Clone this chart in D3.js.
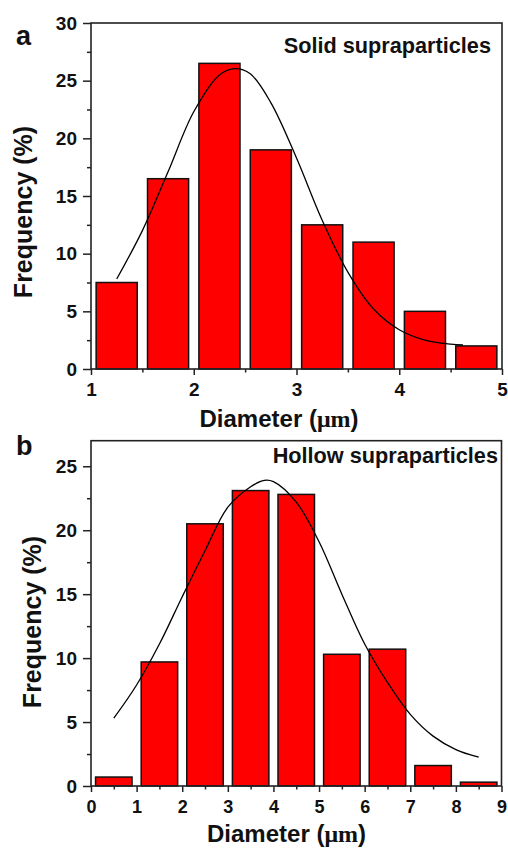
<!DOCTYPE html>
<html>
<head>
<meta charset="utf-8">
<script src="https://cdn.jsdelivr.net/npm/d3@7"></script>
<style>
  body { margin: 0; background: #fff; }
  svg text { font-family: Arial, "Liberation Sans", sans-serif; font-weight: bold; fill: #111; }
</style>
</head>
<body>
<svg id="chart" width="508" height="848"></svg>
<script>
// panel a : solid supraparticles
var solidCenters = [1.25, 1.75, 2.25, 2.75, 3.25, 3.75, 4.25, 4.75];
var solidFreq = [7.5, 16.5, 26.5, 19, 12.5, 11, 5, 2];
var solidFitX = [1.25, 1.5, 1.75, 2.0, 2.25, 2.4, 2.55, 2.75, 3.0, 3.25, 3.5, 3.75, 4.0, 4.25, 4.5, 4.62];
var solidFitY = [7.8, 12.0, 17.1, 22.3, 25.5, 26.05, 25.6, 23.1, 18.3, 12.9, 8.4, 5.2, 3.4, 2.5, 2.15, 2.08];
var solidXTicks = [1, 2, 3, 4, 5];
var solidXMinor = [1.5, 2.5, 3.5, 4.5];
var solidYTicks = [0, 5, 10, 15, 20, 25, 30];
var solidYMinor = [2.5, 7.5, 12.5, 17.5, 22.5, 27.5];

// panel b : hollow supraparticles
var hollowCenters = [0.5, 1.5, 2.5, 3.5, 4.5, 5.5, 6.5, 7.5, 8.5];
var hollowFreq = [0.7, 9.7, 20.5, 23.1, 22.8, 10.3, 10.7, 1.6, 0.3];
var hollowFitX = [0.5, 1.0, 1.5, 2.0, 2.5, 3.0, 3.5, 3.8, 4.0, 4.5, 5.0, 5.5, 6.0, 6.5, 7.0, 7.5, 8.0, 8.5];
var hollowFitY = [5.3, 7.9, 11.1, 14.8, 18.4, 21.8, 23.4, 23.9, 23.8, 22.2, 19.1, 15.0, 11.1, 8.1, 5.6, 3.9, 2.85, 2.25];
var hollowXTicks = [0, 1, 2, 3, 4, 5, 6, 7, 8, 9];
var hollowXMinor = [0.5, 1.5, 2.5, 3.5, 4.5, 5.5, 6.5, 7.5, 8.5];
var hollowYTicks = [0, 5, 10, 15, 20, 25];
var hollowYMinor = [2.5, 7.5, 12.5, 17.5, 22.5];

var svg = d3.select("#chart");

function makePanel(p) {
  var x = d3.scaleLinear().domain(p.xDomain).range([p.left, p.right]);
  var y = d3.scaleLinear().domain(p.yDomain).range([p.bottom, p.top]);
  var g = svg.append("g");

  // bars
  g.append("g")
    .selectAll("rect")
    .data(p.centers)
    .enter()
    .append("rect")
    .attr("x", function (d) { return x(d - p.barW / 2); })
    .attr("y", function (d, i) { return y(p.freq[i]); })
    .attr("width", function (d) { return x(d + p.barW / 2) - x(d - p.barW / 2); })
    .attr("height", function (d, i) { return y(0) - y(p.freq[i]); })
    .attr("fill", "#ff0000")
    .attr("stroke", "#111")
    .attr("stroke-width", 1.5);

  // fitted curve
  var line = d3.line()
    .x(function (d, i) { return x(p.fitX[i]); })
    .y(function (d) { return y(d); })
    .curve(d3.curveCatmullRom);
  g.append("path")
    .attr("d", line(p.fitY))
    .attr("fill", "none")
    .attr("stroke", "#000")
    .attr("stroke-width", 1.3);

  // frame
  g.append("rect")
    .attr("x", p.left).attr("y", p.top)
    .attr("width", p.right - p.left).attr("height", p.bottom - p.top)
    .attr("fill", "none").attr("stroke", "#222").attr("stroke-width", 1.6);

  // axes
  var fmt = d3.format("d");
  var xAxis = d3.axisBottom(x).tickValues(p.xTicks).tickFormat(fmt).tickSize(6).tickPadding(p.xPad).tickSizeOuter(0);
  var xMinor = d3.axisBottom(x).tickValues(p.xMinor).tickSize(3.5).tickFormat("").tickSizeOuter(0);
  var yAxis = d3.axisLeft(y).tickValues(p.yTicks).tickFormat(fmt).tickSize(8).tickPadding(6).tickSizeOuter(0);
  var yMinor = d3.axisLeft(y).tickValues(p.yMinor).tickSize(4).tickFormat("").tickSizeOuter(0);

  [[xAxis, p.xFont], [xMinor, 0]].forEach(function (a) {
    g.append("g")
      .attr("transform", "translate(0," + p.bottom + ")")
      .call(a[0])
      .call(function (s) { s.select(".domain").remove(); })
      .attr("font-size", a[1])
      .selectAll("line").attr("stroke", "#222").attr("stroke-width", 1.5);
  });
  [[yAxis, p.yFont], [yMinor, 0]].forEach(function (a) {
    g.append("g")
      .attr("transform", "translate(" + p.left + ",0)")
      .call(a[0])
      .call(function (s) { s.select(".domain").remove(); })
      .attr("font-size", a[1])
      .selectAll("line").attr("stroke", "#222").attr("stroke-width", 1.5);
  });
  g.selectAll(".tick text").attr("font-family", null);

  // labels
  g.append("text")
    .attr("x", p.letterX).attr("y", p.letterY)
    .attr("font-size", 27)
    .text(p.letter);

  g.append("text")
    .attr("transform", "translate(" + p.yTitleX + "," + p.yTitleY + ") rotate(-90)")
    .attr("text-anchor", "middle")
    .attr("font-size", 25)
    .text("Frequency (%)");

  var xt = g.append("text")
    .attr("x", p.xTitleX).attr("y", p.xTitleY)
    .attr("text-anchor", "middle")
    .attr("font-size", 24);
  xt.append("tspan").text("Diameter (");
  xt.append("tspan").attr("font-family", "'Liberation Serif', 'Times New Roman', serif").text("\u03bcm");
  xt.append("tspan").text(")");

  g.append("text")
    .attr("x", p.titleX).attr("y", p.titleY)
    .attr("text-anchor", "end")
    .attr("font-size", 21.7)
    .text(p.title);
}

makePanel({
  centers: solidCenters, freq: solidFreq, fitX: solidFitX, fitY: solidFitY,
  xTicks: solidXTicks, xMinor: solidXMinor, yTicks: solidYTicks, yMinor: solidYMinor,
  xDomain: [1, 5], yDomain: [0, 30], barW: 0.4,
  left: 91, right: 502, top: 23, bottom: 369,
  xPad: 8, xFont: 19, yFont: 19,
  letter: "a", letterX: 16, letterY: 45,
  yTitleX: 32, yTitleY: 212,
  xTitleX: 279, xTitleY: 427,
  title: "Solid supraparticles", titleX: 491, titleY: 53
});

makePanel({
  centers: hollowCenters, freq: hollowFreq, fitX: hollowFitX, fitY: hollowFitY,
  xTicks: hollowXTicks, xMinor: hollowXMinor, yTicks: hollowYTicks, yMinor: hollowYMinor,
  xDomain: [0, 9], yDomain: [0, 27], barW: 0.8,
  left: 91, right: 501.5, top: 440.7, bottom: 786,
  xPad: 8, xFont: 18, yFont: 19,
  letter: "b", letterX: 16, letterY: 455,
  yTitleX: 40.5, yTitleY: 622,
  xTitleX: 286.5, xTitleY: 842,
  title: "Hollow supraparticles", titleX: 498, titleY: 463
});
</script>
</body>
</html>
